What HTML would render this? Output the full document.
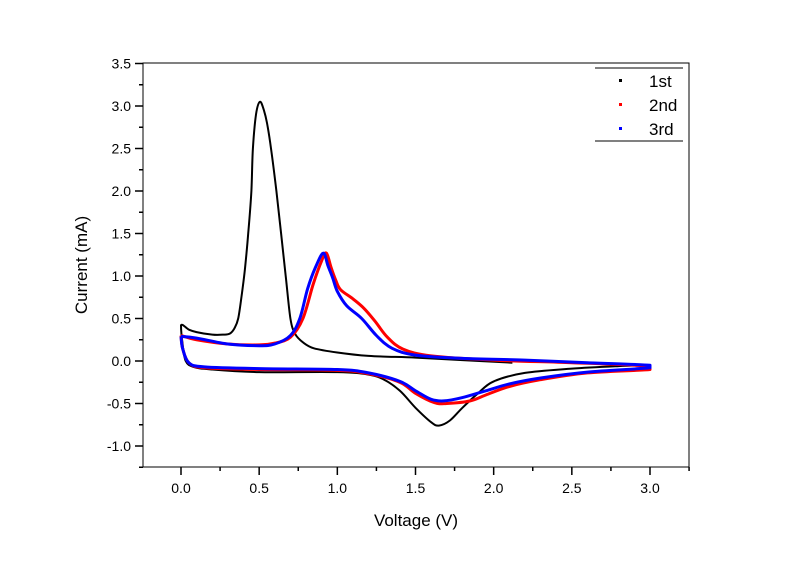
<!DOCTYPE html>
<html><head><meta charset="utf-8"><style>
html,body{margin:0;padding:0;background:#fff;}
svg{display:block;font-family:"Liberation Sans",Arial,sans-serif;}
</style></head><body>
<svg id="chart" width="800" height="561" viewBox="0 0 800 561">
<rect width="800" height="561" fill="#fff"/>
<g id="plot"></g>
</svg>
<script>
const xTicks=[0.0,0.5,1.0,1.5,2.0,2.5,3.0];
const xTickLabels=["0.0","0.5","1.0","1.5","2.0","2.5","3.0"];
const yTicks=[-1.0,-0.5,0.0,0.5,1.0,1.5,2.0,2.5,3.0,3.5];
const yTickLabels=["-1.0","-0.5","0.0","0.5","1.0","1.5","2.0","2.5","3.0","3.5"];
const seriesNames=["1st","2nd","3rd"];
const cycle1V=[2.12,1.8,1.5,1.2,1.0,0.85,0.78,0.73,0.70,0.67,0.64,0.61,0.576,0.55,0.53,0.505,0.48,0.46,0.45,0.43,0.41,0.39,0.366,0.34,0.31,0.27,0.2,0.1,0.05,0.0,0.01,0.03,0.08,0.2,0.5,1.0,1.2,1.3,1.4,1.5,1.6,1.65,1.72,1.8,1.9,2.0,2.2,2.5,2.8,3.0];
const cycle1I=[-0.02,0.01,0.04,0.06,0.1,0.15,0.22,0.32,0.5,1.0,1.5,2.0,2.5,2.8,2.95,3.05,2.9,2.5,2.0,1.5,1.1,0.8,0.5,0.38,0.32,0.31,0.31,0.34,0.37,0.42,0.2,0.0,-0.07,-0.1,-0.13,-0.13,-0.16,-0.22,-0.35,-0.55,-0.72,-0.76,-0.7,-0.55,-0.38,-0.24,-0.14,-0.09,-0.06,-0.05];
const cycle2V=[0,0.1,0.3,0.5,0.6,0.7,0.78,0.845,0.9,0.93,0.96,0.99,1.02,1.1,1.17,1.24,1.32,1.42,1.6,2.0,2.5,3.0,3.0,2.6,2.3,2.1,1.95,1.85,1.7,1.62,1.5,1.4,1.2,1.0,0.5,0.15,0.05,0.01,0];
const cycle2I=[0.3,0.25,0.2,0.19,0.21,0.28,0.5,0.9,1.18,1.27,1.1,0.95,0.84,0.73,0.62,0.47,0.28,0.14,0.06,0.01,-0.02,-0.06,-0.1,-0.14,-0.22,-0.3,-0.4,-0.47,-0.5,-0.49,-0.38,-0.25,-0.15,-0.11,-0.1,-0.08,-0.02,0.15,0.3];
const cycle3V=[0,0.1,0.3,0.5,0.6,0.7,0.76,0.81,0.86,0.91,0.94,0.97,1.0,1.06,1.156,1.25,1.35,1.5,1.8,2.2,2.6,3.0,3.0,2.6,2.3,2.1,1.95,1.8,1.68,1.6,1.5,1.4,1.2,1.0,0.5,0.15,0.05,0.01,0];
const cycle3I=[0.29,0.27,0.2,0.18,0.2,0.3,0.5,0.85,1.1,1.27,1.12,0.98,0.82,0.65,0.5,0.3,0.15,0.07,0.03,0.01,-0.02,-0.05,-0.08,-0.13,-0.2,-0.27,-0.35,-0.43,-0.47,-0.45,-0.35,-0.24,-0.14,-0.1,-0.09,-0.07,-0.02,0.15,0.29];

const L=143,R=689,T=63,B=467;
const x0=181,x1=650;
const X=v=>x0+(v-0)*(x1-x0)/3;
const Y=v=>361-v*85;
const NS="http://www.w3.org/2000/svg";
const g=document.getElementById('plot');
function mk(tag,attrs,parent){const e=document.createElementNS(NS,tag);for(const k in attrs)e.setAttribute(k,attrs[k]);(parent||g).appendChild(e);return e;}

const frame=mk('rect',{x:L,y:T,width:R-L,height:B-T,fill:'none',stroke:'#000','stroke-width':1});



for(let v=-0.25;v<=3.25;v+=0.25){
  const px=X(v); if(px<L-0.5||px>R+0.5) continue;
  const major=Math.abs(v*2-Math.round(v*2))<1e-6;
  const t=mk('line',{x1:px,x2:px,y1:B,y2:B+(major?8:4),stroke:'#000','stroke-width':1.5});
  
  
}
xTicks.forEach((v,i)=>{
  const t=mk('text',{x:X(v),y:B+26,'font-size':14,'text-anchor':'middle',fill:'#000'});
  t.textContent=xTickLabels[i];
  
  
});
for(let v=-1.25;v<=3.5;v+=0.25){
  const py=Y(v); if(py<T-0.5||py>B+0.5) continue;
  const major=Math.abs(v*2-Math.round(v*2))<1e-6;
  const t=mk('line',{x1:L,x2:L-(major?8:4),y1:py,y2:py,stroke:'#000','stroke-width':1.5});
  
  
}
yTicks.forEach((v,i)=>{
  const t=mk('text',{x:L-12,y:Y(v)+5,'font-size':14,'text-anchor':'end',fill:'#000'});
  t.textContent=yTickLabels[i];
  
  
});
const xt=mk('text',{x:(L+R)/2,y:526,'font-size':17,'text-anchor':'middle'});
xt.textContent='Voltage (V)';


const yt=mk('text',{x:0,y:0,'font-size':17,'text-anchor':'middle',transform:'translate(87,265) rotate(-90)'});
yt.textContent='Current (mA)';



function clamp(v,a,b){const lo=Math.min(a,b),hi=Math.max(a,b);return Math.max(lo,Math.min(hi,v));}
function series(vs,is,color,w,name){
  const P=vs.map((v,i)=>[X(v),Y(is[i])]);
  let d='M'+P[0][0].toFixed(1)+','+P[0][1].toFixed(1);
  for(let i=0;i<P.length-1;i++){
    const p0=P[i-1]||P[i],p1=P[i],p2=P[i+1],p3=P[i+2]||P[i+1];
    const c1=[clamp(p1[0]+(p2[0]-p0[0])/6,p1[0],p2[0]),p1[1]+(p2[1]-p0[1])/6];
    const c2=[clamp(p2[0]-(p3[0]-p1[0])/6,p1[0],p2[0]),p2[1]-(p3[1]-p1[1])/6];
    d+=' C'+c1.map(n=>n.toFixed(1)).join(',')+' '+c2.map(n=>n.toFixed(1)).join(',')+' '+p2[0].toFixed(1)+','+p2[1].toFixed(1);
  }
  const p=mk('path',{d:d,fill:'none',stroke:color,'stroke-width':w,'stroke-linejoin':'round'});
  
  
}
series(cycle1V,cycle1I,'#000',2,'series-1st');
series(cycle2V,cycle2I,'#f00',3,'series-2nd');
series(cycle3V,cycle3I,'#00f',3,'series-3rd');

const lg=mk('g',{});


mk('line',{x1:595,x2:683,y1:68,y2:68,stroke:'#000','stroke-width':1},lg);
mk('line',{x1:595,x2:683,y1:141,y2:141,stroke:'#000','stroke-width':1},lg);
const cols=['#000','#f00','#00f'];
seriesNames.forEach((n,i)=>{
  const e=mk('g',{},lg);
  
  
  const cy=80+i*24;
  mk('rect',{x:619,y:cy-1,width:3,height:3,fill:cols[i]},e);
  const t=mk('text',{x:649,y:cy+7,'font-size':17},e);
  t.textContent=n;
});
</script>
</body></html>
